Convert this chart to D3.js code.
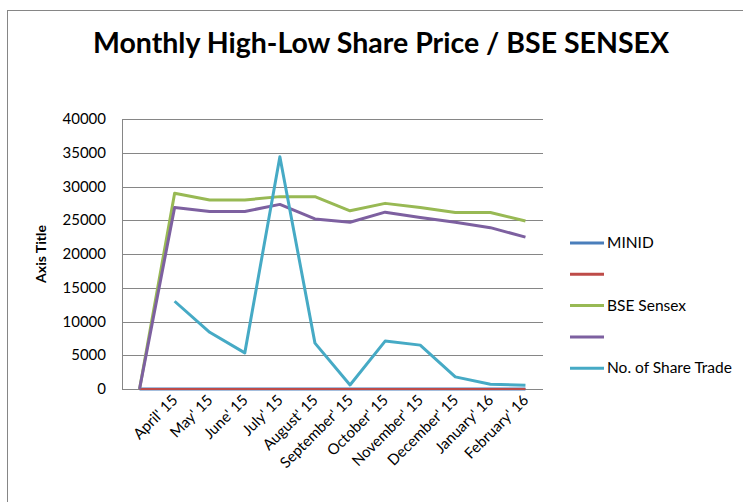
<!DOCTYPE html>
<html>
<head>
<meta charset="utf-8">
<script src="https://cdn.jsdelivr.net/npm/d3@7"></script>
<style>
  body{ margin:0; background:#fff; }
  svg{ display:block; font-family:Lato, "Open Sans", sans-serif; }
</style>
</head>
<body>
<svg id="chart" width="743" height="502"></svg>
<script>
/* Datos (valores estimados) */
const months = ["", "April' 15", "May' 15", "June' 15", "July' 15", "August' 15",
  "September' 15", "October' 15", "November' 15", "December' 15", "January' 16", "February' 16"];

const minid     = [0,0,0,0,0,0,0,0,0,0,0,0];
const minidLow  = [0,0,0,0,0,0,0,0,0,0,0,0];
const sensexHigh = [0, 29000, 28000, 28000, 28500, 28500, 26400, 27500, 26900, 26150, 26150, 24900];
const sensexLow  = [0, 26900, 26300, 26300, 27350, 25200, 24700, 26200, 25400, 24700, 23900, 22500];
const shareTrade = [null, 13000, 8400, 5350, 34400, 6800, 600, 7100, 6500, 1800, 700, 550];

const yTicks = [0,5000,10000,15000,20000,25000,30000,35000,40000];

const series = [
  { name:"MINID",              color:"#4A7EBB", values:minid },
  { name:"",                   color:"#BE4B48", values:minidLow },
  { name:"BSE Sensex",         color:"#98B954", values:sensexHigh },
  { name:"",                   color:"#7D60A0", values:sensexLow },
  { name:"No. of Share Trade", color:"#46AAC5", values:shareTrade }
];

const svg = d3.select("#chart");
const plot = { left:122, right:543, top:119, bottom:389 };

/* marco exterior del gráfico */
svg.append("rect")
  .attr("x",7.5).attr("y",10.5).attr("width",760).attr("height",520)
  .attr("fill","none").attr("stroke","#868686").attr("stroke-width",1);

svg.append("text")
  .attr("x",381).attr("y",53)
  .attr("text-anchor","middle")
  .attr("font-size",28.5).attr("font-weight","bold").attr("fill","#000")
  .text("Monthly High-Low Share Price / BSE SENSEX");

const x = d3.scalePoint().domain(months).range([plot.left, plot.right]).padding(0.5);
const y = d3.scaleLinear().domain([0,40000]).range([plot.bottom, plot.top]);

/* cuadrícula horizontal */
svg.append("g").selectAll("line")
  .data(yTicks)
  .enter().append("line")
  .attr("x1",plot.left).attr("x2",plot.right)
  .attr("y1",d => Math.round(y(d))+0.5).attr("y2",d => Math.round(y(d))+0.5)
  .attr("stroke","#868686").attr("stroke-width",1);

svg.append("line")
  .attr("x1",plot.left+0.5).attr("x2",plot.left+0.5)
  .attr("y1",plot.top).attr("y2",plot.bottom)
  .attr("stroke","#868686");

/* etiquetas del eje Y */
svg.append("g").selectAll("text")
  .data(yTicks)
  .enter().append("text")
  .attr("x",106).attr("y",d => y(d)+5)
  .attr("text-anchor","end").attr("font-size",15).attr("fill","#000")
  .text(d => d);

svg.append("text")
  .attr("transform","translate(46,254) rotate(-90)")
  .attr("text-anchor","middle").attr("font-size",14).attr("font-weight","bold")
  .text("Axis Title");

/* etiquetas del eje X, giradas */
svg.append("g").selectAll("text")
  .data(months.filter(m => m))
  .enter().append("text")
  .attr("transform",d => "translate(" + (x(d)+4) + "," + (plot.bottom+12) + ") rotate(-45)")
  .attr("text-anchor","end").attr("font-size",15).attr("fill","#000")
  .text(d => d);

/* líneas */
const line = d3.line()
  .defined(d => d.v !== null)
  .x(d => x(d.m))
  .y(d => y(d.v));

svg.append("g").selectAll("path")
  .data(series)
  .enter().append("path")
  .attr("d",s => line(s.values.map((v,i) => ({ m:months[i], v:v }))))
  .attr("fill","none")
  .attr("stroke",s => s.color)
  .attr("stroke-width",s => s.values === minidLow ? 2 : 3)
  .attr("stroke-linejoin","round");

/* leyenda */
const legend = svg.append("g").selectAll("g")
  .data(series)
  .enter().append("g")
  .attr("transform",(d,i) => "translate(570," + (243 + i*31.3) + ")");

legend.append("line")
  .attr("x1",0).attr("x2",34)
  .attr("stroke",d => d.color).attr("stroke-width",3);

legend.append("text")
  .attr("x",37).attr("y",5)
  .attr("font-size",15.5).attr("fill","#000")
  .text(d => d.name);
</script>
</body>
</html>
